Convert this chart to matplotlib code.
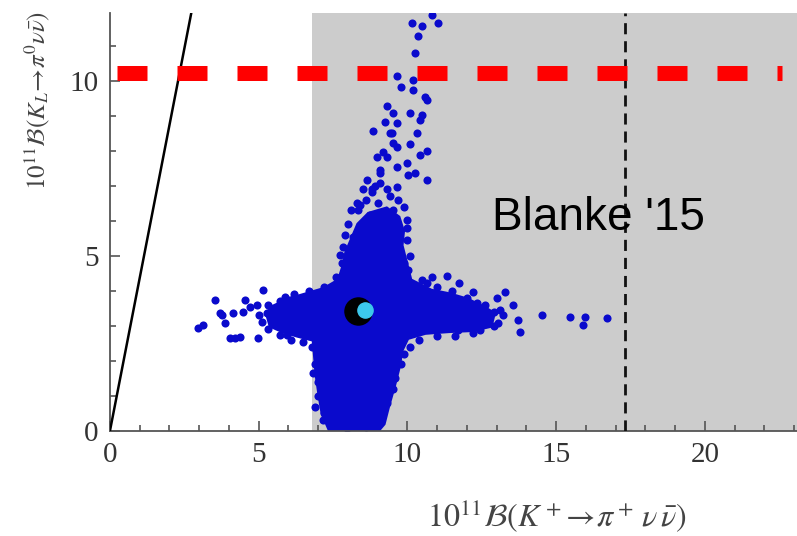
import matplotlib
matplotlib.use("Agg")
import matplotlib.pyplot as plt
from matplotlib.ticker import MultipleLocator

plt.rcParams["mathtext.fontset"] = "stix"

# dense part of the point cloud (outline)
core_x = [8.7, 9.3, 9.7, 9.85, 9.8, 9.95, 10.1, 10.8, 11.4, 12.0, 12.5, 12.9, 12.8,
          12.2, 11.4, 10.6, 10.0, 9.8, 9.7, 9.55, 9.35, 9.2, 9.0, 7.4, 7.15, 7.05,
          6.95, 6.9, 6.85, 6.3, 5.8, 5.4, 5.3, 5.5, 6.0, 6.6, 7.2, 7.7, 7.85, 7.95,
          8.15, 8.35]
core_y = [6.2, 6.35, 6.1, 5.7, 5.3, 4.8, 4.3, 4.0, 3.9, 3.75, 3.55, 3.35, 3.0,
          2.88, 2.85, 2.8, 2.65, 2.3, 1.8, 1.3, 0.7, 0.2, 0.0, 0.0, 0.5, 1.0,
          1.6, 2.1, 2.6, 2.72, 2.85, 3.0, 3.3, 3.55, 3.75, 3.9, 4.05, 4.3, 4.7, 5.1,
          5.5, 5.9]

# sparse points around the core
pts_x = [3.53, 5.14, 4.54, 3.13, 2.96, 3.76, 3.87, 4.13, 4.47, 4.71, 4.94, 4.20, 4.37,
         4.97, 5.28, 5.38, 5.88, 6.05, 4.03, 5.61, 5.95, 6.15, 3.70,
         10.82, 11.33, 11.73, 12.20, 13.28, 13.01, 13.55, 12.00, 12.34, 13.11, 13.71,
         13.78, 11.70, 12.44, 13.04, 14.52, 15.46, 15.97, 15.90, 16.71,
         10.15, 10.49, 11.03, 10.82, 10.35, 10.25, 9.65, 9.78, 10.18, 10.18, 10.59,
         10.66, 9.31, 9.51, 10.08, 10.49, 10.42, 9.24, 9.65, 8.84, 9.48, 10.32, 9.51,
         10.08, 10.66, 9.18, 10.42,
         10.66, 8.64, 9.08, 8.81, 9.65, 10.02, 9.08, 9.31, 8.40, 8.34, 8.74, 9.98,
         9.98, 7.83, 8.07, 7.73, 8.17, 10.02, 10.66, 10.42,
         8.97, 9.08, 9.65, 9.98, 10.25, 9.65, 9.41,
         6.89, 9.18, 8.91, 6.82, 7.16, 7.97, 7.39, 8.30, 8.74, 7.73, 7.39,
         8.0, 7.9, 8.1, 8.5, 8.9, 9.3, 9.9, 10.0, 10.1, 9.9,
         10.5, 11.0, 11.5, 12.0, 12.6, 12.9, 13.2,
         12.9, 12.2, 11.6, 11.0, 10.4, 10.1,
         9.9, 9.8, 9.6, 9.5, 9.3, 9.1, 8.6, 8.1, 7.5, 7.2, 7.0, 7.0, 6.9, 6.8,
         6.5, 6.1, 5.7, 5.3, 5.1, 5.0, 5.3, 5.7, 6.2, 6.7, 7.2, 7.6, 7.8,
         8.6, 9.0, 9.4, 9.7, 8.3, 9.2, 8.8, 9.5]
pts_y = [3.74, 4.02, 3.74, 3.02, 2.94, 3.31, 3.08, 3.37, 3.39, 3.54, 3.59, 2.65, 2.68,
         2.65, 3.37, 3.39, 3.82, 3.74, 2.65, 3.45, 2.74, 3.65, 3.37,
         4.40, 4.42, 4.22, 3.97, 3.97, 3.80, 3.60, 3.65, 3.65, 3.45, 3.17,
         2.82, 2.88, 2.88, 3.08, 3.31, 3.25, 3.25, 3.02, 3.22,
         11.66, 11.57, 11.66, 11.90, 11.29, 10.80, 10.14, 9.83, 10.03, 9.74, 9.54,
         9.46, 9.28, 9.08, 9.08, 9.03, 8.88, 8.83, 8.80, 8.57, 8.51, 8.51, 8.23,
         8.20, 8.00, 7.97, 7.88,
         7.17, 7.17, 7.08, 6.82, 6.96, 7.31, 7.46, 7.83, 6.45, 6.31, 6.17, 6.03,
         5.45, 5.25, 5.16, 5.02, 5.54, 4.60, 4.22, 4.02,
         7.83, 7.36, 7.54, 7.66, 7.36, 8.11, 8.51,
         0.68, 1.31, 0.68, 1.65, 0.31, 0.08, 0.96, 0.51, 0.96, 4.30, 4.07,
         5.9, 5.6, 6.3, 6.9, 7.0, 6.9, 6.4, 5.8, 5.0, 4.8,
         4.3, 4.1, 4.0, 3.8, 3.6, 3.4, 3.3,
         3.0, 2.8, 2.7, 2.7, 2.6, 2.4,
         2.2, 1.9, 1.5, 1.2, 0.8, 0.3, 0.1, 0.2, 0.2, 0.5, 1.0, 1.4, 1.9, 2.4,
         2.55, 2.6, 2.75, 2.9, 3.1, 3.3, 3.6, 3.7, 3.9, 4.0, 4.1, 4.4, 4.8,
         6.6, 6.5, 6.7, 6.6, 6.5, 6.2, 6.9, 6.3]

sm_point = (8.34, 3.42)
fit_point = (8.57, 3.44)
excl_x = 6.8          # start of shaded region
na62_x = 17.3         # vertical dashed line
kl_bound = 10.22      # red dashed line
gn_slope = 4.37       # Grossman-Nir bound
xmax, ymax = 23.1, 11.94

blue = "#0a0acc"
grey = "#555555"

fig = plt.figure(figsize=(7.97, 5.36), dpi=100)
ax = fig.add_axes([0.138, 0.1965, 0.862, 0.779])

ax.axvspan(excl_x, xmax, color="#cccccc", lw=0, zorder=0)
ax.fill(core_x, core_y, color=blue, lw=3, ec=blue, zorder=2)
ax.scatter(pts_x, pts_y, s=34, color=blue, lw=0, zorder=2)
ax.scatter(*sm_point, s=380, color="black", zorder=3)
ax.scatter(*fit_point, s=120, color="#3cc8ec", zorder=4)

ax.plot([0, ymax / gn_slope], [0, ymax], color="black", lw=1.8, zorder=3)
ax.axvline(na62_x, color="#111111", lw=2, dashes=(4, 2.5), zorder=3)
ax.plot([0.24, 22.6], [kl_bound, kl_bound], color="red", lw=10.8,
        dashes=(2, 2), solid_capstyle="butt", dash_capstyle="butt", zorder=5)

ax.text(12.84, 5.74, "Blanke '15", fontsize=33, family="Liberation Sans", zorder=6)

ax.set_xlim(0, xmax)
ax.set_ylim(0, ymax)
ax.xaxis.set_major_locator(MultipleLocator(5))
ax.xaxis.set_minor_locator(MultipleLocator(1))
ax.yaxis.set_major_locator(MultipleLocator(5))
ax.yaxis.set_minor_locator(MultipleLocator(1))
ax.tick_params(which="both", direction="in", color=grey, labelcolor="#333333",
               labelsize=21, width=1.2)
ax.tick_params(which="major", length=7, pad=8)
ax.tick_params(which="minor", length=4)
for lab in ax.get_xticklabels() + ax.get_yticklabels():
    lab.set_family("Liberation Serif")

for side in ("top", "right"):
    ax.spines[side].set_visible(False)
for side in ("left", "bottom"):
    ax.spines[side].set_color(grey)
    ax.spines[side].set_linewidth(1.3)

ax.set_xlabel(r"$10^{11}\mathcal{B}(K^+\!\rightarrow\!\pi^+\,\nu\,\bar{\nu})$",
              fontsize=23, color="#444444")
ax.xaxis.set_label_coords(0.65, -0.16)
ax.set_ylabel(r"$10^{11}\mathcal{B}(K_L\!\rightarrow\!\pi^0\nu\bar{\nu})$",
              fontsize=18, color="#444444")
ax.yaxis.set_label_coords(-0.085, 0.79)

fig.savefig("out.png", dpi=100)
